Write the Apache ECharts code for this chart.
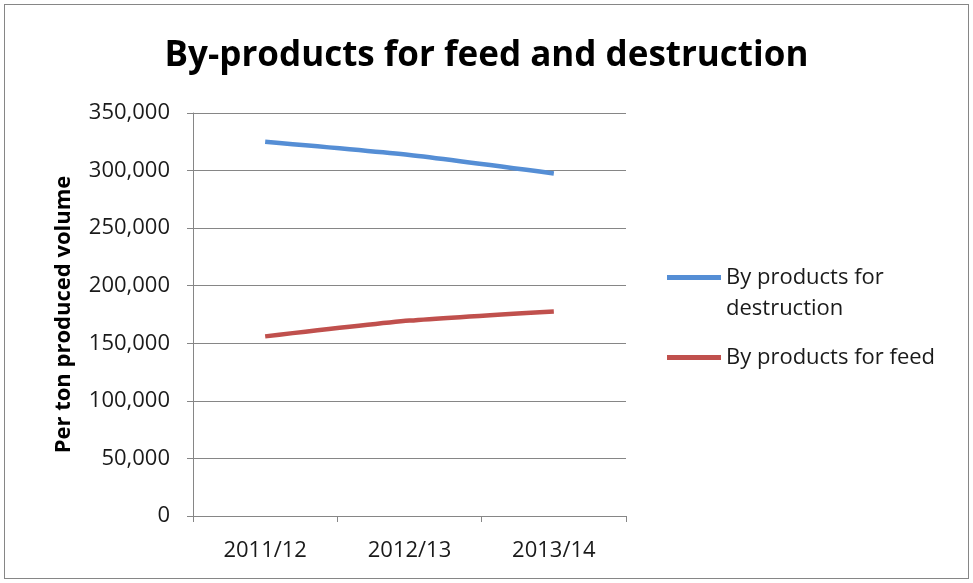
<!DOCTYPE html>
<html>
<head>
<meta charset="utf-8">
<script src="https://cdn.jsdelivr.net/npm/echarts@6/dist/echarts.min.js"></script>
<style>
    html, body { margin: 0; padding: 0; background: #fff; }
    #chart { position: absolute; left: 4px; top: 4px; width: 963px; height: 573px; border: 1px solid #868686; }
</style>
</head>
<body>
<div id="chart"></div>
<script>
var seasons = ['2011/12', '2012/13', '2013/14'];
var destruction = [325000, 313500, 297500];
var feed = [156000, 169700, 177700];

var FONT = '"Open Sans", "Noto Sans", sans-serif';

var chart = echarts.init(document.getElementById('chart'));
chart.setOption({
    animation: false,
    title: {
        text: 'By-products for feed and destruction',
        left: 'center',
        top: 29,
        textStyle: { fontFamily: FONT, fontSize: 35, fontWeight: 'bold', color: '#000' }
    },
    legend: {
        orient: 'vertical',
        left: 662,
        top: 226,
        padding: 0,
        itemGap: 18,
        itemWidth: 54,
        itemHeight: 5,
        icon: 'rect',
        textStyle: { fontFamily: FONT, fontSize: 22, color: '#1a1a1a', lineHeight: 31 },
        data: ['By products for destruction', 'By products for feed'],
        // blank first line keeps the icon level with the first text line
        formatter: function (name) {
            return name === 'By products for destruction' ? '\nBy products for\ndestruction' : name;
        }
    },
    grid: { left: 188, right: 342, top: 108, bottom: 62 },
    xAxis: {
        type: 'category',
        data: seasons,
        boundaryGap: true,
        axisLine: { lineStyle: { color: '#868686' } },
        axisTick: { show: true, length: 6, lineStyle: { color: '#868686' } },
        axisLabel: { fontFamily: FONT, fontSize: 22, color: '#1a1a1a', margin: 24 }
    },
    yAxis: {
        type: 'value',
        min: 0,
        max: 350000,
        interval: 50000,
        name: 'Per ton produced volume',
        nameLocation: 'middle',
        nameGap: 118,
        nameTextStyle: { fontFamily: FONT, fontSize: 22, fontWeight: 'bold', color: '#000' },
        axisLine: { show: true, lineStyle: { color: '#868686' } },
        axisTick: { show: true, length: 6, lineStyle: { color: '#868686' } },
        splitLine: { lineStyle: { color: '#868686' } },
        axisLabel: {
            fontFamily: FONT, fontSize: 22, color: '#1a1a1a', margin: 23,
            formatter: function (v) { return v.toLocaleString('en-US'); }
        }
    },
    series: [
        {
            name: 'By products for destruction',
            type: 'line',
            data: destruction,
            symbol: 'none',
            smooth: 0.2,
            lineStyle: { width: 4.5, color: '#558ED5' },
            itemStyle: { color: '#558ED5' }
        },
        {
            name: 'By products for feed',
            type: 'line',
            data: feed,
            symbol: 'none',
            smooth: 0.2,
            lineStyle: { width: 4.5, color: '#C0504D' },
            itemStyle: { color: '#C0504D' }
        }
    ]
});
</script>
</body>
</html>
